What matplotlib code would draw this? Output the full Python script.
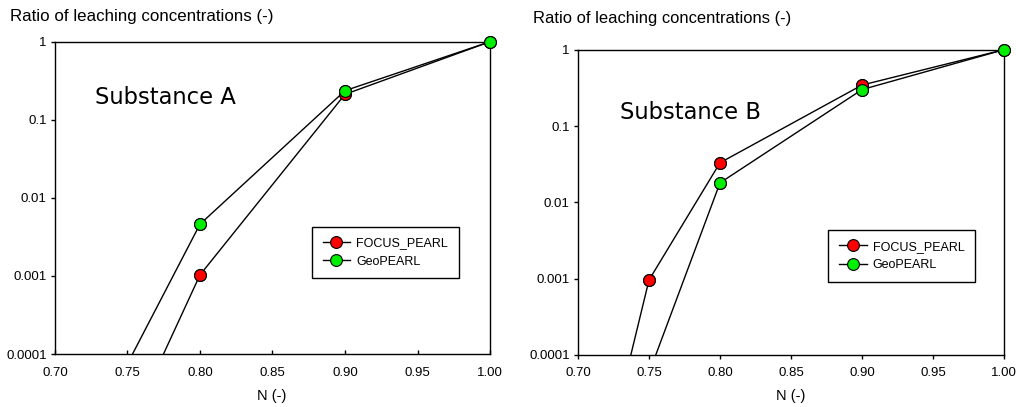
import matplotlib
matplotlib.use("Agg")
import matplotlib.pyplot as plt
import numpy as np

# data
n_values = [0.75, 0.80, 0.90, 1.00]
a_focus = [1.0e-5, 1.03e-3, 0.212, 1.0]
a_geo = [7.5e-5, 4.6e-3, 0.236, 1.0]

n_values_b = [0.70, 0.75, 0.80, 0.90, 1.00]
b_focus = [1.4e-7, 9.6e-4, 0.033, 0.344, 1.0]
b_geo = [np.nan, 5.8e-5, 0.018, 0.30, 1.0]

x_ticks = [0.70, 0.75, 0.80, 0.85, 0.90, 0.95, 1.00]
x_labels = ['0.70', '0.75', '0.80', '0.85', '0.90', '0.95', '1.00']
y_ticks = [1e-4, 1e-3, 1e-2, 1e-1, 1]
y_labels = ['0.0001', '0.001', '0.01', '0.1', '1']

series_names = ['FOCUS_PEARL', 'GeoPEARL']
series_colors = ['#ff0000', '#00ee00']

fig = plt.figure(figsize=(10.16, 4.07), dpi=100)


def draw_panel(ax, x, focus, geo, label, label_pos, legend_anchor, xtick_dir, xpad):
    for y, name, col in zip([focus, geo], series_names, series_colors):
        y = np.asarray(y, dtype=float)
        ax.plot(x, y, '-', color='black', linewidth=1, marker='o', markersize=8.5,
                markerfacecolor=col, markeredgecolor='black',
                markeredgewidth=0.8, label=name)
        # points inside the range are drawn unclipped, as in the original
        shown = np.where(y >= 1e-4, y, np.nan)
        ax.plot(x, shown, 'o', markersize=8.5, markerfacecolor=col,
                markeredgecolor='black', markeredgewidth=0.8, clip_on=False,
                zorder=5)
    ax.set_yscale('log')
    ax.set_xlim(0.70, 1.00)
    ax.set_ylim(1e-4, 1)
    ax.set_xticks(x_ticks)
    ax.set_xticklabels(x_labels, fontsize=9.5, family='Liberation Sans')
    ax.set_yticks(y_ticks)
    ax.set_yticklabels(y_labels, fontsize=9.5, family='Liberation Sans')
    ax.yaxis.set_minor_locator(matplotlib.ticker.NullLocator())
    ax.tick_params(axis='y', direction='out', length=3, width=1, pad=3)
    ax.tick_params(axis='x', direction=xtick_dir, length=3, width=1, pad=xpad)
    for sp in ax.spines.values():
        sp.set_linewidth(1)
    ax.text(label_pos[0], label_pos[1], label, transform=ax.transAxes,
            fontsize=16.3, family='DejaVu Sans', va='center', ha='left')
    leg = ax.legend(loc='upper left', bbox_to_anchor=legend_anchor,
                    prop={'family': 'Liberation Sans', 'size': 9},
                    fancybox=False, edgecolor='black', framealpha=1,
                    handlelength=2.2, borderpad=0.85, labelspacing=0.5,
                    handletextpad=0.5, borderaxespad=0)
    leg.get_frame().set_linewidth(1)


ax1 = fig.add_axes([0.0541, 0.1302, 0.4282, 0.7673])
draw_panel(ax1, n_values, a_focus, a_geo, 'Substance A', (0.092, 0.82),
           (0.591, 0.407), 'in', 9)
fig.text(10 / 1016, 1 - 17 / 407, 'Ratio of leaching concentrations (-)',
         fontsize=12.2, family='Liberation Sans', va='center', ha='left')
fig.text(272 / 1016, 1 - 396 / 407, 'N (-)',
         fontsize=10.5, family='Liberation Sans', va='center', ha='center')

ax2 = fig.add_axes([0.5689, 0.1278, 0.4193, 0.7501])
draw_panel(ax2, n_values_b, b_focus, b_geo, 'Substance B', (0.099, 0.793),
           (0.588, 0.409), 'out', 6)
fig.text(533 / 1016, 1 - 19 / 407, 'Ratio of leaching concentrations (-)',
         fontsize=11.9, family='Liberation Sans', va='center', ha='left')
fig.text(791 / 1016, 1 - 396 / 407, 'N (-)',
         fontsize=10.5, family='Liberation Sans', va='center', ha='center')

fig.savefig('out.png', dpi=100)
